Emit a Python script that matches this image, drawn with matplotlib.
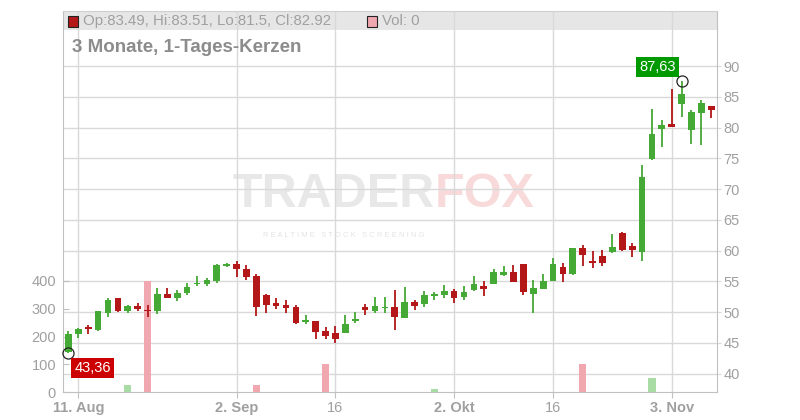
import numpy as np
import pandas as pd
import matplotlib
matplotlib.use('Agg')
import matplotlib.pyplot as plt
from matplotlib.patches import Rectangle

plt.rcParams['font.family'] = ['Liberation Sans', 'DejaVu Sans']

# daily candles, 8 Aug - 7 Nov 2025
dates = pd.bdate_range('2025-08-08', '2025-11-07')

opens = [43.5, 46.4, 47.5, 47.05, 49.9, 52.3, 50.2, 51.0, 50.3, 50.2,
         52.9, 52.3, 53.1, 54.55, 54.6, 55.1, 57.5, 57.75, 57.0, 55.85,
         52.75, 51.5, 51.1, 50.8, 48.4, 48.5, 46.9, 46.55, 46.6, 48.5,
         50.8, 50.2, 50.7, 50.8, 49.05, 51.6, 51.3, 52.6, 52.75, 53.4,
         52.4, 53.6, 54.2, 54.55, 56.0, 56.5, 57.8, 52.9, 53.75, 55.0,
         57.3, 56.2, 60.4, 58.3, 59.1, 59.75, 62.8, 60.7, 59.8, 74.9,
         79.8, 80.55, 83.9, 79.6, 82.4, 83.49]
highs = [47.0, 47.4, 47.9, 50.2, 52.3, 52.3, 51.2, 51.5, 51.1, 53.9,
         53.9, 53.6, 54.7, 55.85, 55.6, 57.8, 58.0, 58.3, 57.6, 56.2,
         53.0, 52.3, 51.9, 51.1, 49.5, 48.5, 47.5, 47.7, 49.5, 50.0,
         51.3, 52.4, 52.5, 53.6, 54.05, 51.9, 53.4, 53.3, 54.4, 53.7,
         54.2, 55.85, 55.1, 57.0, 57.5, 57.6, 57.8, 55.2, 56.2, 58.8,
         57.95, 60.5, 60.9, 59.9, 60.05, 62.7, 63.1, 61.2, 73.9, 83.0,
         81.2, 86.3, 87.63, 82.8, 84.5, 83.51]
lows = [43.36, 45.8, 46.4, 47.0, 49.2, 50.0, 49.9, 50.2, 49.2, 49.7,
        52.25, 51.8, 52.8, 54.2, 54.2, 54.8, 57.3, 55.7, 55.2, 49.3,
        49.8, 50.5, 49.9, 48.1, 48.1, 45.6, 45.6, 45.0, 46.6, 48.2,
        49.6, 49.8, 49.9, 47.1, 49.0, 50.3, 50.8, 52.0, 52.3, 51.5,
        52.0, 53.5, 52.6, 54.5, 55.85, 54.9, 52.75, 49.8, 53.7, 55.0,
        54.9, 56.0, 57.5, 57.2, 57.5, 59.6, 59.9, 59.0, 58.3, 74.7,
        76.9, 80.1, 81.75, 77.3, 77.2, 81.5]
closes = [46.5, 47.2, 47.2, 50.15, 51.9, 50.2, 51.0, 50.5, 50.15, 52.9,
          52.3, 53.1, 54.05, 54.7, 55.2, 57.6, 57.8, 57.0, 55.7, 50.85,
          51.1, 51.0, 50.6, 48.25, 48.7, 46.8, 46.1, 45.6, 48.0, 48.85,
          50.3, 51.0, 50.85, 49.2, 51.6, 50.96, 52.75, 52.9, 53.4, 52.3,
          53.2, 54.55, 53.8, 56.5, 56.5, 54.9, 53.25, 53.9, 55.0, 57.8,
          56.2, 60.4, 59.3, 58.0, 58.0, 60.6, 60.05, 60.15, 71.9, 78.9,
          80.35, 80.1, 85.4, 82.6, 83.98, 82.92]
volumes = [0, 0, 0, 0, 0, 0, 25, 0, 400, 0,
           0, 0, 0, 0, 0, 0, 0, 0, 0, 26,
           0, 0, 0, 0, 0, 0, 100, 0, 0, 0,
           0, 0, 0, 0, 0, 0, 0, 12, 0, 0,
           0, 0, 0, 0, 0, 0, 0, 0, 0, 0,
           0, 0, 100, 0, 0, 0, 0, 0, 0, 50,
           0, 0, 0, 0, 0, 0]

tick_dates = ['2025-08-11', '2025-09-02', '2025-09-16', '2025-10-02', '2025-10-16', '2025-11-03']
tick_labels = ['11. Aug', '2. Sep', '16', '2. Okt', '16', '3. Nov']
bold_ticks = [True, True, False, True, False, True]
price_ticks = [40, 45, 50, 55, 60, 65, 70, 75, 80, 85, 90]
vol_ticks = [0, 100, 200, 300, 400]

o = np.array(opens); h = np.array(highs); l = np.array(lows); c = np.array(closes)
x = np.arange(len(dates))
up = c >= o
candle_col = np.where(up, '#45a935', '#b31717')
vol_col = np.where(up, '#a9dca5', '#f0a7b0')

GRAY = '#a0a0a0'
GRID = '#d9d9d9'

fig = plt.figure(figsize=(8, 4.2), dpi=100)
L, R, B, T = 63 / 800, 716.7 / 800, 1 - 392.3 / 420, 1 - 11 / 420
ax_grid = fig.add_axes([L, B, R - L, T - B])
ax_vol = ax_grid.twinx()
ax_price = ax_grid.twinx()

ax_grid.set_xlim(-0.55, len(x) - 0.45)
for a in (ax_grid, ax_price):
    a.set_ylim(36.96, 98.95)
ax_vol.set_ylim(0, 1367)

# header band
band_h = 19 / 381.3
ax_grid.add_patch(Rectangle((0, 1 - band_h), 1, band_h, transform=ax_grid.transAxes,
                            fc='#e6e6e6', ec='none', zorder=0))

# watermark
ax_grid.text(0.569, 0.52, 'TRADER', transform=ax_grid.transAxes, ha='right', va='center',
             fontsize=35, fontweight='bold', color='#e8e8e8', zorder=0.2)
ax_grid.text(0.569, 0.52, 'FOX', transform=ax_grid.transAxes, ha='left', va='center',
             fontsize=35, fontweight='bold', color='#f9dada', zorder=0.2)
ax_grid.text(0.43, 0.41, 'R E A L T I M E   S T O C K   S C R E E N I N G',
             transform=ax_grid.transAxes, ha='center', va='center', fontsize=5.5,
             color='#e4e4e4', zorder=0.2)

# grid + axes styling
ax_grid.set_axisbelow(True)
ax_grid.set_yticks(price_ticks)
ax_grid.yaxis.tick_right()
tick_pos = [dates.get_loc(pd.Timestamp(d)) for d in tick_dates]
ax_grid.set_xticks(tick_pos)
ax_grid.set_xticklabels(tick_labels)
for lab, b in zip(ax_grid.get_xticklabels(), bold_ticks):
    lab.set_fontweight('bold' if b else 'normal')
ax_grid.grid(True, color=GRID, lw=1)
ax_grid.tick_params(axis='y', colors=GRID, labelcolor=GRAY, labelsize=10.5, length=3, pad=2)
ax_grid.tick_params(axis='x', colors='#c0c0c0', labelcolor=GRAY, labelsize=10.5, length=4, pad=2)
for s in ('left', 'right', 'bottom'):
    ax_grid.spines[s].set_color('#c0c0c0')
ax_grid.spines['top'].set_color('#d0d0d0')

ax_vol.yaxis.tick_left()
ax_vol.set_yticks(vol_ticks)
ax_vol.tick_params(axis='y', direction='in', colors='#c0c0c0', labelcolor=GRAY,
                   labelsize=10.5, length=4, pad=5)
ax_price.set_yticks([])
for a in (ax_vol, ax_price):
    for s in a.spines.values():
        s.set_visible(False)

# volume
ax_vol.bar(x, volumes, width=0.74, color=vol_col, zorder=1)

# candles
ax_price.vlines(x, l, h, colors=candle_col, lw=1.3, zorder=2)
ax_price.bar(x, np.maximum(np.abs(c - o), 0.15), bottom=np.minimum(o, c), width=0.68,
             color=candle_col, zorder=3)

# min / max labels
i_lo, i_hi = int(np.argmin(l)), int(np.argmax(h))
ax_price.plot([i_lo, i_hi], [l[i_lo], h[i_hi]], 'o', ms=8, mfc='none', mec='#222222',
              mew=0.9, zorder=4, clip_on=False)
ax_price.annotate(f'{l[i_lo]:.2f}'.replace('.', ','), (i_lo, l[i_lo]), xytext=(24, -15),
                  textcoords='offset pixels', ha='center', va='center', color='white',
                  fontsize=10.5, zorder=5,
                  bbox=dict(boxstyle='square,pad=0.2', fc='#cc0000', ec='none'))
ax_price.annotate(f'{h[i_hi]:.2f}'.replace('.', ','), (i_hi, h[i_hi]), xytext=(-24, 14),
                  textcoords='offset pixels', ha='center', va='center', color='white',
                  fontsize=10.5, zorder=5,
                  bbox=dict(boxstyle='square,pad=0.2', fc='#009900', ec='none'))

# header
fig.add_artist(Rectangle((68 / 800, 1 - 26.5 / 420), 10 / 800, 10 / 420,
                         transform=fig.transFigure, fc='#b31717', ec='#222222', lw=0.8))
fig.text(83 / 800, 1 - 21 / 420,
         f'Op:{o[-1]:.2f}, Hi:{h[-1]:.2f}, Lo:{l[-1]:g}, Cl:{c[-1]:.2f}',
         ha='left', va='center', fontsize=10.8, color=GRAY)
fig.add_artist(Rectangle((367 / 800, 1 - 26.5 / 420), 10 / 800, 10 / 420,
                         transform=fig.transFigure, fc='#f0a7b0', ec='#222222', lw=0.8))
fig.text(382 / 800, 1 - 21 / 420, f'Vol: {volumes[-1]}', ha='left', va='center',
         fontsize=10.8, color=GRAY)
fig.text(72 / 800, 1 - 48 / 420, '3 Monate, 1-Tages-Kerzen', ha='left', va='center',
         fontsize=13.5, fontweight='bold', color='#8c8c8c')

fig.savefig('out.png', dpi=100)
